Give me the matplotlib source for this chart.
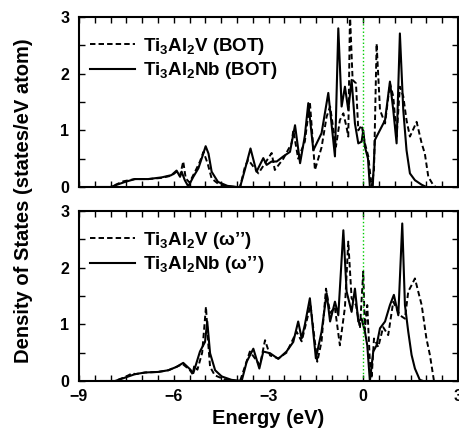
import matplotlib
matplotlib.use("Agg")
import matplotlib.pyplot as plt
from matplotlib.ticker import MultipleLocator

plt.rcParams['font.family'] = ['Liberation Sans', 'DejaVu Sans']
plt.rcParams['font.weight'] = 'bold'
plt.rcParams['mathtext.fontset'] = 'custom'
plt.rcParams['mathtext.bf'] = 'Liberation Sans:bold'
plt.rcParams['mathtext.rm'] = 'Liberation Sans:bold'
plt.rcParams['mathtext.default'] = 'bf'

# ---- data ----
bot_nb_e = [-8.4, -8.0, -7.8, -7.54, -7.23, -6.81, -6.38, -6.07, -5.91, -5.8, -5.75, -5.65, -5.54, -5.38,
            -5.22, -5.1, -4.99, -4.9, -4.8, -4.6, -4.3, -4.0, -3.9, -3.75, -3.57, -3.38, -3.165, -3.06,
            -2.9, -2.74, -2.53, -2.32, -2.16, -2.0, -1.85, -1.74, -1.58, -1.32, -1.107, -0.896, -0.79,
            -0.685, -0.58, -0.474, -0.369, -0.263, -0.157, -0.052, 0.0, 0.053, 0.15, 0.21, 0.3, 0.37,
            0.423, 0.58, 0.69, 0.845, 0.95, 1.056, 1.16, 1.267, 1.37, 1.478, 1.636, 1.85, 2.0]
bot_nb_d = [0.0, 0.0, 0.04, 0.09, 0.14, 0.14, 0.17, 0.21, 0.29, 0.18, 0.27, 0.12, 0.01, 0.18,
            0.33, 0.53, 0.72, 0.59, 0.27, 0.09, 0.02, 0.0, 0.0, 0.3, 0.68, 0.27, 0.51, 0.39,
            0.45, 0.45, 0.54, 0.62, 1.09, 0.42, 0.9, 1.48, 0.65, 0.95, 1.66, 0.54, 2.8,
            1.42, 1.77, 1.36, 1.89, 1.12, 0.77, 0.8, 1.0, 0.71, 0.5, 0.0, 0.0, 0.83,
            0.89, 1.06, 1.18, 1.86, 1.36, 0.77, 2.71, 1.36, 0.65, 0.24, 0.12, 0.04, 0.0]

bot_v_e = [-8.4, -8.0, -7.8, -7.6, -7.23, -6.8, -6.4, -6.07, -5.91, -5.8, -5.7, -5.62, -5.5, -5.3,
           -5.17, -5.06, -4.93, -4.8, -4.6, -4.3, -4.0, -3.9, -3.745, -3.64, -3.32, -3.11, -2.9, -2.8,
           -2.53, -2.27, -2.215, -2.06, -1.85, -1.69, -1.53, -1.32, -1.16, -1.05, -0.865, -0.74, -0.63,
           -0.527, -0.474, -0.42, -0.337, -0.23, -0.157, -0.052, 0.053, 0.16, 0.265, 0.34, 0.423, 0.53,
           0.69, 0.845, 0.95, 1.056, 1.16, 1.267, 1.37, 1.478, 1.69, 1.85, 1.95, 2.06, 2.22, 2.3]
bot_v_d = [0.0, 0.0, 0.05, 0.1, 0.14, 0.14, 0.16, 0.2, 0.27, 0.2, 0.45, 0.15, 0.08, 0.3,
           0.45, 0.62, 0.42, 0.15, 0.06, 0.01, 0.0, 0.0, 0.36, 0.48, 0.24, 0.42, 0.6, 0.3,
           0.5, 0.77, 1.0, 0.5, 0.8, 1.5, 0.3, 0.7, 1.24, 1.42, 0.71, 1.18, 1.3,
           1.05, 0.89, 3.05, 1.89, 1.83, 1.0, 1.09, 0.77, 0.54, 0.0, 0.3, 2.53, 1.36,
           1.12, 1.83, 1.6, 0.89, 1.77, 1.6, 1.18, 0.89, 1.15, 0.77, 0.59, 0.18, 0.03, 0.0]

om_nb_e = [-8.3, -7.86, -7.54, -7.23, -6.91, -6.49, -6.17, -5.91, -5.70, -5.49, -5.38, -5.17, -5.01,
           -4.94, -4.85, -4.69, -4.48, -4.17, -3.85, -3.69, -3.48, -3.29, -3.165, -2.95, -2.69, -2.43,
           -2.215, -2.06, -1.95, -1.85, -1.69, -1.5, -1.32, -1.16, -1.05, -0.896, -0.79, -0.63, -0.527,
           -0.369, -0.263, -0.157, -0.052, 0.053, 0.127, 0.21, 0.317, 0.423, 0.53, 0.69, 0.845, 0.97,
           1.11, 1.235, 1.32, 1.425, 1.53, 1.636, 1.79, 1.9]
om_nb_d = [0.0, 0.0, 0.06, 0.12, 0.15, 0.16, 0.19, 0.25, 0.32, 0.21, 0.14, 0.52, 0.69,
           1.05, 0.49, 0.19, 0.08, 0.02, 0.0, 0.34, 0.57, 0.22, 0.52, 0.49, 0.39, 0.52,
           0.69, 1.05, 0.75, 0.99, 1.46, 0.4, 0.87, 1.55, 1.05, 1.4, 1.16, 2.66, 1.58,
           1.22, 1.63, 1.05, 1.1, 0.87, 0.63, 0.0, 0.52, 0.63, 0.93, 1.05, 1.34, 1.52,
           1.16, 2.78, 1.34, 0.87, 0.46, 0.22, 0.02, 0.0]

om_v_e = [-8.3, -7.86, -7.54, -7.3, -7.23, -6.9, -6.5, -6.17, -5.91, -5.72, -5.5, -5.40, -5.35, -5.25,
          -5.1, -4.98, -4.9, -4.85, -4.7, -4.4, -4.0, -3.9, -3.75, -3.59, -3.27, -3.11, -2.95, -2.69,
          -2.43, -2.11, -1.95, -1.67, -1.455, -1.32, -1.18, -1.05, -0.9, -0.74, -0.58, -0.474, -0.369,
          -0.23, -0.105, 0.0, 0.05, 0.127, 0.21, 0.265, 0.34, 0.475, 0.63, 0.79, 0.95, 1.16, 1.32,
          1.425, 1.53, 1.636, 1.74, 1.85, 2.0, 2.11, 2.24]
om_v_d = [0.0, 0.0, 0.07, 0.14, 0.12, 0.15, 0.16, 0.19, 0.25, 0.3, 0.2, 0.12, 0.27, 0.2,
          0.5, 1.31, 0.6, 0.25, 0.1, 0.03, 0.0, 0.0, 0.25, 0.52, 0.28, 0.72, 0.45, 0.4,
          0.5, 0.87, 0.7, 1.34, 0.34, 0.7, 1.63, 1.2, 1.3, 0.63, 1.3, 2.46, 1.46,
          1.34, 0.93, 1.93, 0.9, 1.34, 0.34, 0.05, 0.75, 0.6, 0.95, 0.81, 1.4, 1.16, 1.1,
          1.58, 1.69, 1.81, 1.58, 1.34, 0.75, 0.46, 0.0]

top_labels = ['Ti$_3$Al$_2$V (BOT)', 'Ti$_3$Al$_2$Nb (BOT)']
bottom_labels = ['Ti$_3$Al$_2$V (ω’’)', 'Ti$_3$Al$_2$Nb (ω’’)']
xticks = [-9, -6, -3, 0, 3]
xticklabels = ['−9', '−6', '−3', '0', '3']
yticks = [0, 1, 2, 3]

W, H = 459, 428
fig = plt.figure(figsize=(W / 100, H / 100), dpi=100)
ax1 = fig.add_axes([79 / W, 1 - 187 / H, (458 - 79) / W, 170 / H])
ax2 = fig.add_axes([79 / W, 1 - 381 / H, (458 - 79) / W, 170 / H])

panels = [
    (ax1, bot_v_e, bot_v_d, bot_nb_e, bot_nb_d, top_labels),
    (ax2, om_v_e, om_v_d, om_nb_e, om_nb_d, bottom_labels),
]
for ax, ve, vd, ne, nd, labels in panels:
    ax.plot(ve, vd, color='black', lw=1.4, ls=(0, (2.8, 1.6)), label=labels[0])
    ax.plot(ne, nd, color='black', lw=1.5, ls='-', label=labels[1])
    ax.axvline(0, color='#00cc00', lw=1.0, ls=':')
    ax.set_xlim(-9, 3)
    ax.set_ylim(0, 3)
    ax.set_xticks(xticks)
    ax.set_yticks(yticks)
    ax.xaxis.set_minor_locator(MultipleLocator(0.5))
    ax.yaxis.set_minor_locator(MultipleLocator(0.5))
    ax.tick_params(which='both', direction='in', top=True, right=True, length=4, width=1,
                   labelsize=11.5)
    ax.tick_params(axis='y', pad=7)
    ax.tick_params(axis='x', pad=6)
    for s in ax.spines.values():
        s.set_linewidth(1.5)
    for t in ax.get_yticklabels():
        t.set_fontweight('bold')
    ax.legend(loc='upper left', frameon=False, fontsize=13.5, handlelength=2.4,
              handletextpad=0.45, labelspacing=0.2, borderaxespad=0, borderpad=0,
              bbox_to_anchor=(11 / 379, 0.89))

ax1.tick_params(labelbottom=False)
ax2.set_xticklabels(xticklabels)
for t in ax2.get_xticklabels():
    t.set_fontweight('bold')

fig.text(268.5 / W, 1 - 419 / H, 'Energy (eV)', ha='center', va='center', fontsize=14.5,
         fontweight='bold')
fig.text(24 / W, 1 - 201 / H, 'Density of States (states/eV atom)', ha='center', va='center',
         rotation=90, fontsize=14.5, fontweight='bold')

fig.savefig('out.png', dpi=100)
